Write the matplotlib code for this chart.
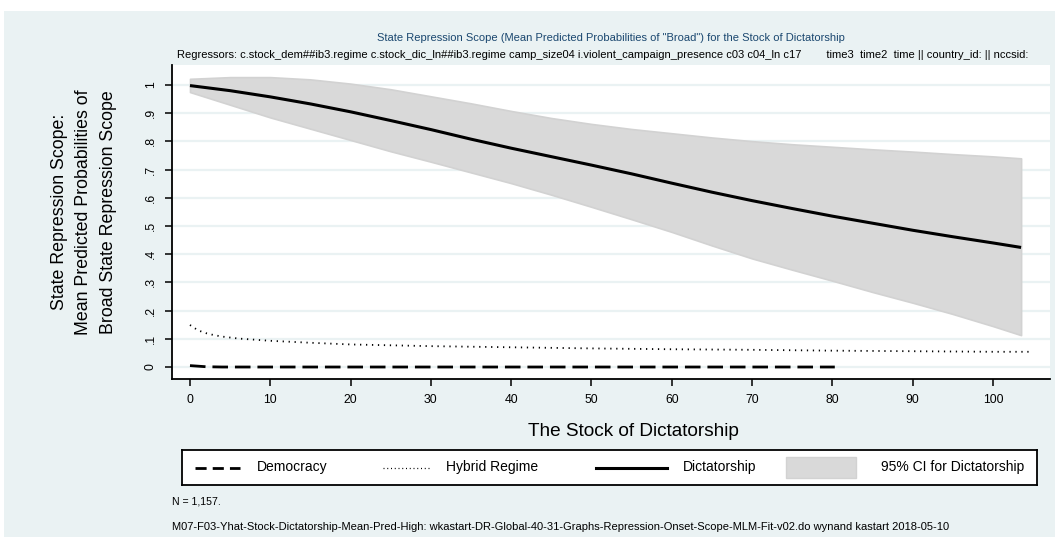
import matplotlib
matplotlib.use("Agg")
import matplotlib.pyplot as plt
from matplotlib.patches import Rectangle

plt.rcParams['font.family'] = ['Liberation Sans', 'DejaVu Sans']

# Predicted probabilities by stock of dictatorship
dict_x = [0, 5, 10, 15, 20, 25, 30, 35, 40, 45, 50, 55, 60, 65, 70, 75, 80, 85, 90, 95, 100, 103.5]
dict_mean = [0.998, 0.980, 0.958, 0.933, 0.905, 0.874, 0.842, 0.808, 0.776, 0.746, 0.716, 0.685,
             0.652, 0.620, 0.590, 0.562, 0.535, 0.510, 0.485, 0.462, 0.440, 0.424]
dict_hi = [1.022, 1.028, 1.028, 1.020, 1.005, 0.985, 0.960, 0.935, 0.908, 0.883, 0.862, 0.844,
           0.829, 0.814, 0.801, 0.790, 0.781, 0.772, 0.764, 0.755, 0.747, 0.740]
dict_lo = [0.975, 0.930, 0.885, 0.845, 0.805, 0.765, 0.728, 0.690, 0.652, 0.611, 0.568, 0.524,
           0.479, 0.431, 0.385, 0.345, 0.306, 0.266, 0.228, 0.188, 0.145, 0.113]

hyb_x = [0, 1, 2, 3, 4, 6, 10, 15, 20, 30, 40, 50, 60, 70, 80, 90, 100, 104.5]
hyb_mean = [0.149, 0.130, 0.120, 0.113, 0.108, 0.101, 0.093, 0.086, 0.080, 0.074, 0.070, 0.066,
            0.063, 0.061, 0.058, 0.056, 0.054, 0.054]

dem_x = [0, 1, 2, 4, 10, 20, 40, 60, 80.3]
dem_mean = [0.005, 0.003, 0.001, 0.0, 0.0, 0.0, 0.0, 0.0, 0.0]

y_ticks = [0, 0.1, 0.2, 0.3, 0.4, 0.5, 0.6, 0.7, 0.8, 0.9, 1.0]
y_ticklabels = ["0", ".1", ".2", ".3", ".4", ".5", ".6", ".7", ".8", ".9", "1"]
x_ticks = [0, 10, 20, 30, 40, 50, 60, 70, 80, 90, 100]

W, H = 1064, 537
BG = "#EAF2F3"
fig = plt.figure(figsize=(W / 100, H / 100), dpi=100, facecolor="white")

# graph region background
fig.patches.append(Rectangle((4 / W, 0), (1055 - 4) / W, (H - 11) / H,
                             transform=fig.transFigure, facecolor=BG, edgecolor="none", zorder=-10))

L, R, T, B = 172, 1050, 65, 379
ax = fig.add_axes([L / W, 1 - B / H, (R - L) / W, (B - T) / H])
ax.set_facecolor("white")
ax.set_xlim(-2.24, 107.1)
ax.set_ylim(-0.0425, 1.071)

for yt in y_ticks:
    ax.axhline(yt, color=BG, lw=1.6, zorder=1)

ax.fill_between(dict_x, dict_lo, dict_hi, facecolor="#D9D9D9", edgecolor="#D2D2D2",
                lw=1.2, joinstyle="round", zorder=2)
ax.plot(dict_x, dict_mean, color="black", lw=2.2, zorder=4, solid_capstyle="butt")
ax.plot(hyb_x, hyb_mean, color="black", lw=1.3, linestyle=(0, (0.7, 2.6)), zorder=3)
ax.plot(dem_x, dem_mean, color="black", lw=2.0, linestyle=(0, (5.6, 2.5)), zorder=3)

for side in ("top", "right"):
    ax.spines[side].set_visible(False)
for side in ("left", "bottom"):
    ax.spines[side].set_linewidth(1.3)
    ax.spines[side].set_color("black")

ax.set_yticks(y_ticks)
ax.set_yticklabels(y_ticklabels, rotation=90, va="center", fontsize=8.8)
ax.set_xticks(x_ticks)
ax.set_xticklabels([str(v) for v in x_ticks], fontsize=8.8)
ax.tick_params(axis="both", direction="out", length=5, width=1.1, color="black", pad=6)

def fx(px):
    return px / W

def fy(py):
    return 1 - py / H

fig.text(fx(611), fy(38), 'State Repression Scope (Mean Predicted Probabilities of "Broad") for the Stock of Dictatorship',
         ha="center", va="center", fontsize=8.0, color="#1A476F")
fig.text(fx(177), fy(55),
         "Regressors: c.stock_dem##ib3.regime c.stock_dic_ln##ib3.regime camp_size04 i.violent_campaign_presence c03 c04_ln c17"
         "        time3  time2  time || country_id: || nccsid:",
         ha="left", va="center", fontsize=8.05, color="black")

fig.text(fx(84), fy(212),
         "State Repression Scope:\nMean Predicted Probabilities of\nBroad State Repression Scope",
         rotation=90, ha="center", va="center", fontsize=12.8, linespacing=1.55, color="black")
fig.text(fx(633), fy(432), "The Stock of Dictatorship", ha="center", va="center", fontsize=13.7, color="black")

# legend box
lx0, ly0, lx1, ly1 = 182, 450, 1037, 485
leg_ax = fig.add_axes([fx(lx0), fy(ly1), (lx1 - lx0) / W, (ly1 - ly0) / H])
leg_ax.set_xlim(lx0, lx1)
leg_ax.set_ylim(ly1, ly0)
leg_ax.set_facecolor("white")
leg_ax.set_xticks([])
leg_ax.set_yticks([])
for s in leg_ax.spines.values():
    s.set_linewidth(1.3)
    s.set_color("black")
ym = (ly0 + ly1) / 2
leg_ax.plot([195, 240], [ym, ym], color="black", lw=2.0, linestyle=(0, (4.0, 2.2)))
leg_ax.text(257, ym, "Democracy", va="center", ha="left", fontsize=10)
leg_ax.plot([383, 430], [ym, ym], color="black", lw=0.9, linestyle=(0, (0.8, 2.2)))
leg_ax.text(446, ym, "Hybrid Regime", va="center", ha="left", fontsize=10)
leg_ax.plot([596, 667], [ym, ym], color="black", lw=2.2)
leg_ax.text(683, ym, "Dictatorship", va="center", ha="left", fontsize=10)
leg_ax.add_patch(Rectangle((786, ly0 + 7), 70, ly1 - ly0 - 14, facecolor="#D9D9D9", edgecolor="#D2D2D2", lw=1))
leg_ax.text(1024, ym, "95% CI for Dictatorship", va="center", ha="right", fontsize=10)

fig.text(fx(172), fy(502), "N = 1,157.", ha="left", va="center", fontsize=7.6)
fig.text(fx(172), fy(527),
         "M07-F03-Yhat-Stock-Dictatorship-Mean-Pred-High: wkastart-DR-Global-40-31-Graphs-Repression-Onset-Scope-MLM-Fit-v02.do wynand kastart 2018-05-10",
         ha="left", va="center", fontsize=8.0)

fig.savefig("out.png", dpi=100, facecolor="white")
